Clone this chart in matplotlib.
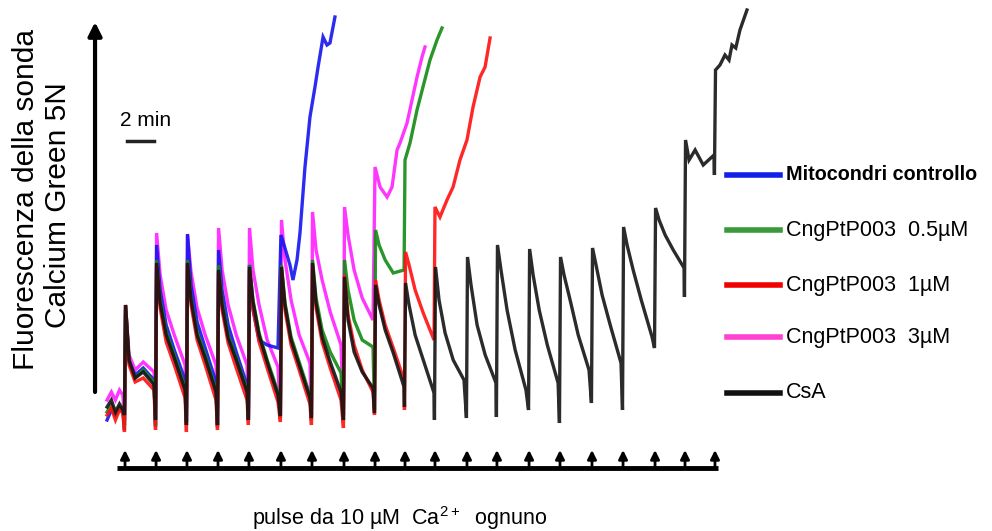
"""
Calcium retention traces (Calcium Green 5N) for mitochondria with
CngPtP003 at different doses and CsA, one 10 uM Ca2+ pulse every ~2.3 min.
"""

import matplotlib
matplotlib.use("Agg")
import matplotlib.pyplot as plt

plt.rcParams["font.family"] = ["Liberation Sans", "DejaVu Sans"]
plt.rcParams["mathtext.default"] = "regular"

# ─────────────────────────────────────────────────────────────────────────────
# Data (time in min, fluorescence in a.u.)
# ─────────────────────────────────────────────────────────────────────────────

PULSE_T = [1.26, 3.56, 5.85, 8.15, 10.44, 12.81, 15.11, 17.48, 19.78, 22.0,
           24.22, 26.59, 28.81, 31.19, 33.48, 35.85, 38.15, 40.52, 42.74, 44.96]

# sampling offsets inside each pulse: trough, peak, three decay points, end
PULSE_OFFSETS = [-0.04, 0.04, 0.3, 0.75, 1.35, 2.15]

START_T = [-0.07, 0.25, 0.55, 0.85, 1.1]

LABELS = ["Mitocondri controllo", "CngPtP003  0.5\u00b5M", "CngPtP003  1\u00b5M",
          "CngPtP003  3\u00b5M", "CsA"]

# blue — control
CTRL_START = [20, 30, 25, 32, 28]
CTRL_PULSES = [
    [15, 130, 78, 65, 72, 60],
    [15, 195, 150, 115, 90, 60],
    [18, 206, 155, 118, 92, 58],
    [15, 190, 150, 115, 88, 55],
    [20, 175, 130, 100, 95, 92],
]
CTRL_TAIL_T = [12.81, 13.04, 13.48, 13.70, 14.0, 14.22, 14.59, 14.96, 15.33,
               15.56, 15.93, 16.22, 16.44, 16.81]
CTRL_TAIL_F = [205, 195, 175, 160, 180, 207, 273, 323, 353, 373, 403, 395,
               397, 423]

# green — 0.5 uM
C05_START = [28, 35, 25, 33, 30]
C05_PULSES = [
    [10, 135, 78, 62, 70, 58],
    [13, 180, 140, 108, 85, 52],
    [15, 180, 142, 108, 85, 50],
    [13, 175, 138, 105, 82, 50],
    [20, 175, 140, 107, 80, 48],
    [22, 175, 137, 103, 78, 45],
    [20, 180, 142, 110, 88, 67],
    [20, 180, 150, 120, 100, 93],
    [30, 210, 195, 180, 167, 170],
]
C05_TAIL_T = [22.0, 22.37, 22.89, 23.33, 23.85, 24.37, 24.74]
C05_TAIL_F = [280, 297, 330, 353, 380, 400, 412]

# red — 1 uM
C1_START = [25, 32, 20, 30, 27]
C1_PULSES = [
    [8, 135, 75, 58, 62, 50],
    [10, 175, 132, 98, 75, 42],
    [8, 175, 135, 100, 75, 40],
    [10, 168, 130, 97, 72, 40],
    [15, 170, 132, 98, 72, 38],
    [18, 170, 130, 95, 70, 36],
    [15, 175, 132, 98, 72, 40],
    [12, 165, 125, 95, 70, 48],
    [25, 160, 140, 115, 92, 60],
    [30, 188, 175, 150, 127, 100],
]
C1_TAIL_T = [24.22, 24.59, 25.11, 25.56, 26.07, 26.59, 27.04, 27.56, 27.93, 28.30]
C1_TAIL_F = [233, 223, 240, 253, 280, 300, 333, 363, 373, 402]

# magenta — 3 uM
C3_START = [40, 48, 40, 50, 45]
C3_PULSES = [
    [20, 135, 85, 70, 78, 68],
    [22, 207, 165, 130, 105, 75],
    [18, 205, 168, 132, 105, 75],
    [18, 212, 170, 135, 105, 75],
    [22, 212, 170, 135, 100, 73],
    [25, 220, 180, 140, 105, 77],
    [25, 228, 190, 160, 128, 95],
    [25, 233, 205, 170, 142, 120],
]
C3_TAIL_T = [19.78, 20.15, 20.67, 21.04, 21.41, 21.63, 22.15, 22.52, 22.89,
             23.26, 23.48]
C3_TAIL_F = [273, 253, 243, 253, 290, 297, 317, 340, 363, 383, 393]

# black — CsA
CSA_START = [33, 40, 28, 36, 30]
CSA_PULSES = [
    [25, 135, 80, 62, 68, 55],
    [20, 177, 137, 105, 82, 50],
    [15, 177, 140, 105, 82, 48],
    [15, 170, 135, 102, 80, 48],
    [20, 173, 138, 105, 78, 45],
    [24, 173, 135, 100, 75, 42],
    [22, 177, 137, 103, 78, 48],
    [20, 163, 120, 88, 68, 52],
    [27, 155, 135, 110, 87, 53],
    [33, 157, 135, 105, 80, 47],
    [20, 173, 140, 107, 80, 60],
    [22, 183, 155, 115, 85, 57],
    [23, 195, 170, 130, 90, 50],
    [30, 191, 165, 130, 95, 57],
    [17, 183, 165, 140, 105, 70],
    [37, 192, 175, 145, 115, 77],
    [30, 213, 195, 170, 140, 103],
    [92, 232, 220, 205, 190, 172],
    [143, 300, 280, 290, 275, 285],
]
CSA_TAIL_T = [44.92, 45.0, 45.33, 45.7, 46.0, 46.22, 46.5, 46.81, 47.33]
CSA_TAIL_F = [265, 370, 375, 385, 380, 395, 392, 410, 430]

TRACE_COLORS = ["#1414f0", "#138a13", "#ff1010", "#ff20ff", "#141414"]
LEGEND_COLORS = ["#1020e8", "#3a9a3a", "#f00000", "#ff40d0", "#101010"]


def build_trace(start, pulses, tail_t, tail_f):
    t, f = list(START_T), list(start)
    for p, row in zip(PULSE_T, pulses):
        for off, v in zip(PULSE_OFFSETS, row):
            t.append(p + off)
            f.append(v)
    return t + tail_t, f + tail_f


# ─────────────────────────────────────────────────────────────────────────────
# Figure
# ─────────────────────────────────────────────────────────────────────────────

fig = plt.figure(figsize=(9.92, 5.31), dpi=100)
ax = fig.add_axes([0, 0, 1, 1])
ax.set_xlim(-8.0, 65.48)
ax.set_ylim(-91, 440)
ax.axis("off")

traces = [
    build_trace(CTRL_START, CTRL_PULSES, CTRL_TAIL_T, CTRL_TAIL_F),
    build_trace(C05_START, C05_PULSES, C05_TAIL_T, C05_TAIL_F),
    build_trace(C1_START, C1_PULSES, C1_TAIL_T, C1_TAIL_F),
    build_trace(C3_START, C3_PULSES, C3_TAIL_T, C3_TAIL_F),
    build_trace(CSA_START, CSA_PULSES, CSA_TAIL_T, CSA_TAIL_F),
]
# draw order: magenta, blue, green, red, black on top
for i in [3, 0, 1, 2, 4]:
    t, f = traces[i]
    ax.plot(t, f, color=TRACE_COLORS[i], lw=2.4, alpha=0.9,
            solid_joinstyle="miter")

# ── y axis arrow ─────────────────────────────────────────────────────────────
ax.annotate("", xy=(-0.96, 418), xytext=(-0.96, 48),
            arrowprops=dict(arrowstyle="-|>", color="black", lw=3,
                            mutation_scale=20, shrinkA=0, shrinkB=0))

# ── scale bar ────────────────────────────────────────────────────────────────
ax.plot([1.4, 3.4], [299, 299], color="#222222", lw=2.5)
ax.text(2.8, 320, "2 min", ha="center", va="center", fontsize=15)

# ── pulse axis with arrows ──────────────────────────────────────────────────
ax.plot([0.67, 45.2], [-28, -28], color="black", lw=3.5, solid_capstyle="butt")
for p in PULSE_T:
    ax.annotate("", xy=(p, -10), xytext=(p, -28),
                arrowprops=dict(arrowstyle="-|>", color="black", lw=2,
                                mutation_scale=13, shrinkA=0, shrinkB=0))
fig.text(400 / 992, 1 - 518 / 531,
         "pulse da 10 \u00b5M  Ca$^{2+}$  ognuno",
         ha="center", va="center", fontsize=15.5)

# ── y labels ─────────────────────────────────────────────────────────────────
fig.text(26 / 992, 1 - 200 / 531, "Fluorescenza della sonda",
         rotation=90, ha="center", va="center", fontsize=21.5)
fig.text(58 / 992, 1 - 205 / 531, "Calcium Green 5N",
         rotation=90, ha="center", va="center", fontsize=21.5)

# ── legend ───────────────────────────────────────────────────────────────────
legend_y = [175, 230, 285, 337, 393]
for lbl, col, py in zip(LABELS, LEGEND_COLORS, legend_y):
    yy = 1 - py / 531
    bold = lbl.startswith("Mito")
    ax.plot([727 / 992, 780 / 992], [yy, yy], color=col, lw=4,
            transform=ax.transAxes)
    fig.text(786 / 992, yy, lbl, ha="left", va="center",
             fontsize=14.2 if bold else 15.5,
             fontweight="bold" if bold else "normal")

fig.savefig("out.png", dpi=100)
